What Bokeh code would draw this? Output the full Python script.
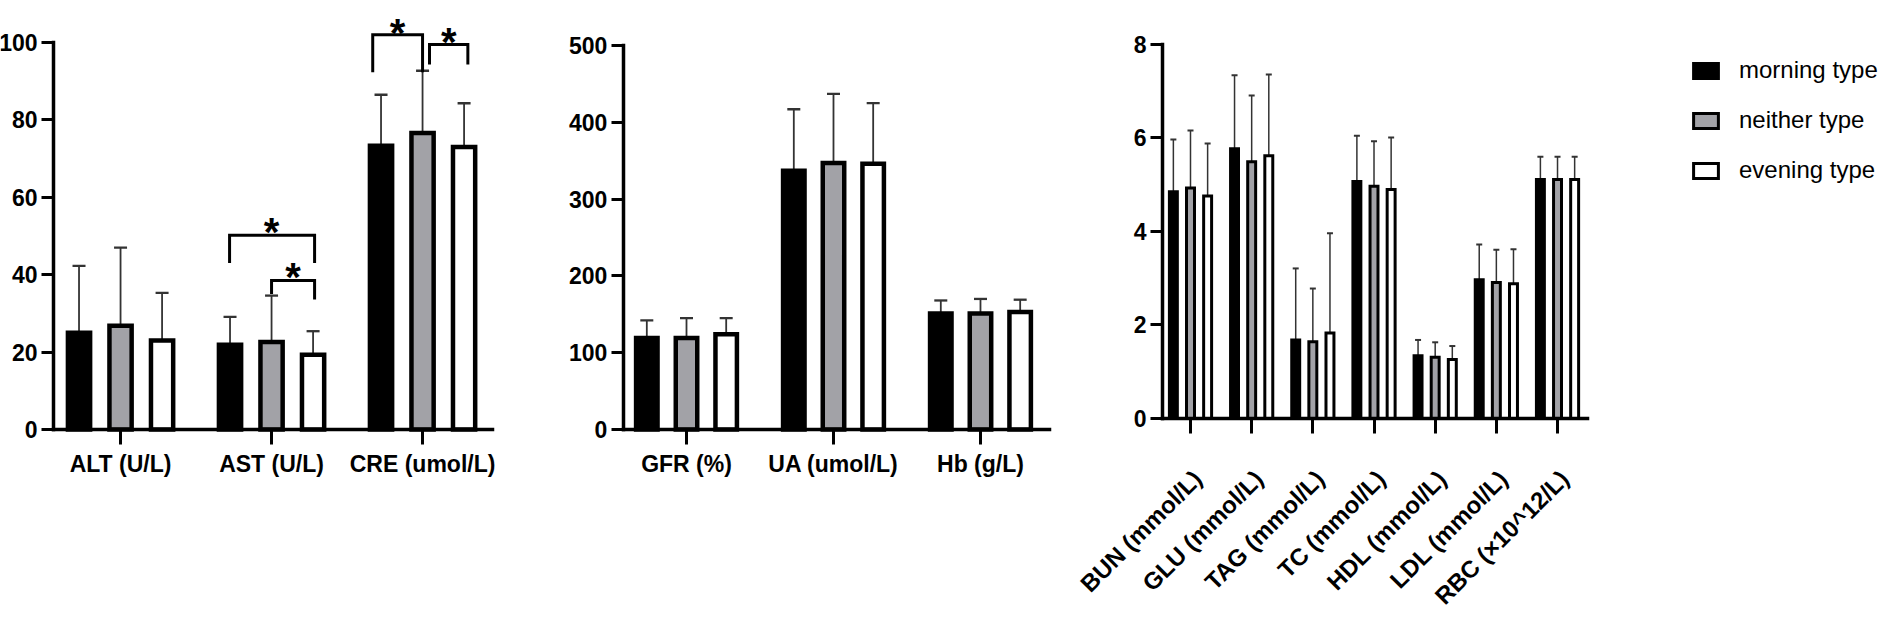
from bokeh.plotting import figure
from bokeh.models import (ColumnDataSource, FixedTicker, Legend, LegendItem,
                          Range1d, LabelSet)
from bokeh.layouts import row
from bokeh.transform import dodge
from bokeh.core.properties import value
from bokeh.embed import file_html
from bokeh.resources import INLINE

# ---------------- data ----------------
groups = ["morning type", "neither type", "evening type"]

cats1 = ["ALT (U/L)", "AST (U/L)", "CRE (umol/L)"]
morning1 = [25.0, 21.9, 73.3]
neither1 = [26.8, 22.6, 76.6]
evening1 = [23.0, 19.3, 73.0]
morning1_sd = [17.3, 7.2, 13.2]
neither1_sd = [20.2, 12.0, 16.1]
evening1_sd = [12.3, 6.1, 11.3]

cats2 = ["GFR (%)", "UA (umol/L)", "Hb (g/L)"]
morning2 = [119, 337, 151]
neither2 = [119, 347, 151]
evening2 = [124, 346, 153]
morning2_sd = [23, 80, 17]
neither2_sd = [26, 90, 19]
evening2_sd = [21, 79, 16]

cats3 = ["BUN (mmol/L)", "GLU (mmol/L)", "TAG (mmol/L)", "TC (mmol/L)",
         "HDL (mmol/L)", "LDL (mmol/L)", "RBC (\u00d710^12/L)"]
morning3 = [4.85, 5.77, 1.68, 5.07, 1.34, 2.97, 5.11]
neither3 = [4.93, 5.49, 1.64, 4.97, 1.31, 2.91, 5.11]
evening3 = [4.76, 5.62, 1.83, 4.90, 1.26, 2.88, 5.11]
morning3_sd = [1.12, 1.57, 1.53, 0.98, 0.34, 0.75, 0.49]
neither3_sd = [1.23, 1.42, 1.14, 0.96, 0.32, 0.70, 0.49]
evening3_sd = [1.12, 1.74, 2.13, 1.11, 0.29, 0.74, 0.49]

# significance brackets: (category index, left offset, right offset, top, left leg end, right leg end)
brackets1 = [
    (1, -0.278, 0.285, 50.2, 43.0, 43.0),
    (1, 0.0, 0.285, 38.5, 35.0, 33.6),
    (2, -0.33, 0.0, 102.0, 92.3, 92.3),
    (2, 0.046, 0.30, 99.5, 94.3, 94.3),
]
stars1_x = [1.0, 1.143, 1.835, 2.173]
stars1_y = [57.0, 45.3, 108.5, 106.0]

SANS = "Liberation Sans"
fills = ["black", "#a2a2a7", "white"]
ERR = "#333333"


def panel(cats, means, sds, width, x_rng, y_rng, xbounds, yaxis_x, ybounds,
          yticks, off, bar_w, bar_lw, cap, err_lw, rotate=False):
    # the frame fills the whole figure; axes are placed at fixed data locations
    p = figure(width=width, height=610, output_backend="svg",
               toolbar_location=None, x_range=Range1d(*x_rng),
               y_range=Range1d(*y_rng), min_border=0)
    p.xgrid.visible = False
    p.ygrid.visible = False
    p.outline_line_color = None
    n = len(cats)
    rends = []
    for m, s, fc, o in zip(means, sds, fills, [-off, 0, off]):
        src = ColumnDataSource(dict(x=list(range(n)), top=m,
                                    upper=[a + b for a, b in zip(m, s)]))
        xs = dodge("x", o, range=None)
        p.segment(x0=xs, y0="top", x1=xs, y1="upper", source=src,
                  line_color=ERR, line_width=err_lw)
        p.scatter(x=xs, y="upper", marker="dash", size=cap, source=src,
                  line_color=ERR, line_width=err_lw + 0.5)
        r = p.vbar(x=xs, top="top", bottom=0, width=bar_w, source=src,
                   fill_color=fc, line_color="black", line_width=bar_lw,
                   line_join="miter")
        rends.append(r)
    for ax in (p.xaxis[0], p.yaxis[0]):
        ax.axis_line_width = 3.5
        ax.axis_line_cap = "square"
        ax.major_tick_line_width = 3
        ax.minor_tick_line_color = None
        ax.major_tick_in = 0
        ax.major_label_text_font = SANS
        ax.major_label_text_font_style = "bold"
        ax.major_label_text_color = "black"
        ax.major_label_text_font_size = "23px"
    p.xaxis.fixed_location = 0
    p.yaxis.fixed_location = yaxis_x
    p.yaxis.ticker = FixedTicker(ticks=yticks)
    p.yaxis.bounds = ybounds
    p.yaxis.major_tick_out = 12
    p.yaxis.major_label_standoff = 4
    p.xaxis.ticker = FixedTicker(ticks=list(range(n)))
    p.xaxis.bounds = xbounds
    p.xaxis.major_tick_out = 15
    p.xaxis.major_label_standoff = 7
    if rotate:
        p.xaxis.major_label_overrides = {i: "" for i in range(n)}
        lsrc = ColumnDataSource(dict(x=list(range(n)), text=cats))
        p.add_layout(LabelSet(x="x", y=-1.2, text="text", source=lsrc,
                              x_offset=7, angle=0.785398,
                              text_align="right", text_baseline="middle",
                              text_font=value(SANS), text_font_style="bold",
                              text_font_size="24px", text_color="black"))
    else:
        p.xaxis.major_label_overrides = {i: c for i, c in enumerate(cats)}
    return p, rends


p1, _ = panel(cats1, [morning1, neither1, evening1],
              [morning1_sd, neither1_sd, evening1_sd],
              564, (-0.795, 2.940), (-46.77, 110.85),
              (-0.444, 2.464), -0.444, (0, 100), [0, 20, 40, 60, 80, 100],
              0.275, 0.147, 4.5, 13, 1.8)

bx, by = [], []
for c, lo, ro, top, ll, rl in brackets1:
    bx.append([c + lo, c + lo, c + ro, c + ro])
    by.append([ll, top, top, rl])
p1.multi_line(xs=bx, ys=by, line_color="black", line_width=3,
              line_join="miter")
p1.text(x=stars1_x, y=stars1_y, text=["*"] * len(stars1_x),
        text_font=value(SANS), text_font_style="bold",
        text_font_size="40px", text_align="center",
        text_baseline="alphabetic", y_offset=23, text_color="black")

p2, _ = panel(cats2, [morning2, neither2, evening2],
              [morning2_sd, neither2_sd, evening2_sd],
              508, (-0.830, 2.626), (-235.7, 558.6),
              (-0.43, 2.469), -0.43, (0, 500), [0, 100, 200, 300, 400, 500],
              0.27, 0.146, 4.5, 13, 1.8)

p3, rends3 = panel(cats3, [morning3, neither3, evening3],
                   [morning3_sd, neither3_sd, evening3_sd],
                   814, (-1.929, 11.378), (-4.107, 8.941),
                   (-0.458, 6.49), -0.458, (0, 8), [0, 2, 4, 6, 8],
                   0.28, 0.13, 3, 6, 1.5, rotate=True)

legend = Legend(items=[LegendItem(label=g, renderers=[r])
                       for g, r in zip(groups, rends3)],
                location=(618, 425), orientation="vertical",
                glyph_width=31, glyph_height=19, label_height=30,
                spacing=20, padding=0, margin=0, label_standoff=18,
                label_text_font=SANS, label_text_font_size="24px",
                label_text_color="black", border_line_color=None,
                background_fill_alpha=0)
p3.add_layout(legend)

layout = row(p1, p2, p3)
open("out.html", "w").write(file_html(layout, INLINE))
